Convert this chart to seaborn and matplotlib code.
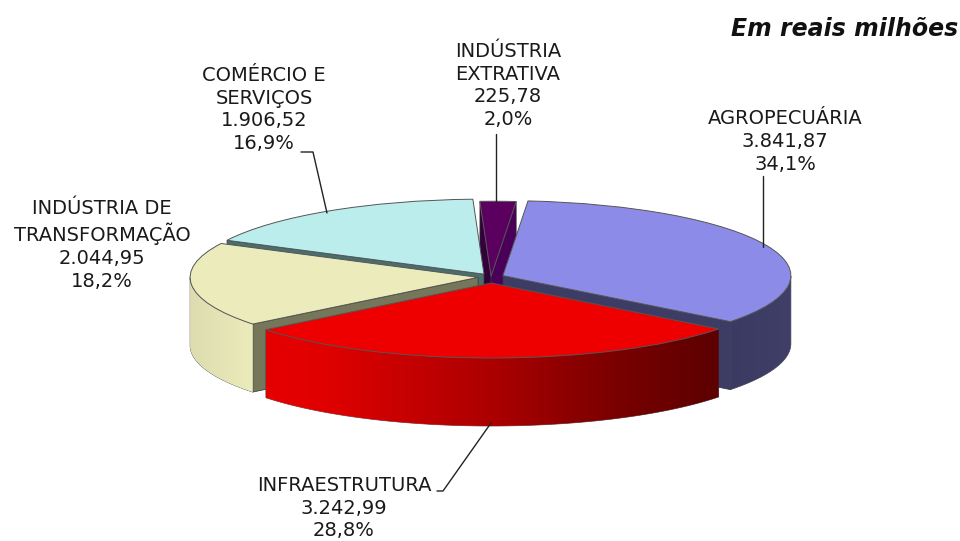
import numpy as np
import matplotlib
matplotlib.use("Agg")
import matplotlib.pyplot as plt
from matplotlib.colors import LinearSegmentedColormap
from matplotlib.patches import Polygon
from matplotlib.lines import Line2D
import seaborn as sns

sectors = ["AGROPECUÁRIA", "INFRAESTRUTURA", "INDÚSTRIA DE\nTRANSFORMAÇÃO",
           "COMÉRCIO E\nSERVIÇOS", "INDÚSTRIA\nEXTRATIVA"]
values = [3841.87, 3242.99, 2044.95, 1906.52, 225.78]

top_colors = ["#8c8ce8", "#ee0000", "#ebebbb", "#bbeded", "#5c0060"]
cut_colors = ["#3c3c64", "#600000", "#76765a", "#4a6e6e", "#33003c"]
explode = [0.045, 0.08, 0.045, 0.045, 0.01]
paint_order = [4, 3, 0, 2, 1]

PX_W, PX_H = 960, 541
CX, CY, RX, RY, DEPTH_PX = 491, 277, 288, 75, 68
DEPTH = DEPTH_PX / RY

sns.set_theme(style="white")
plt.rcParams["font.family"] = ["DejaVu Sans"]
palette = sns.color_palette(top_colors)

fig = plt.figure(figsize=(9.6, 5.41), dpi=100, facecolor="white")
ax = fig.add_axes([0, 0, 1, 1])
wedges, _ = ax.pie(values, explode=explode, startangle=85, counterclock=False,
                   colors=palette, radius=1,
                   wedgeprops=dict(edgecolor="#555555", linewidth=0.7))


def px(x, y):
    return (x - CX) / RX, (CY - y) / RY


gradients = {
    1: LinearSegmentedColormap.from_list(
        "red", list(zip([0.0, 0.13, 0.52, 0.76, 1.0],
                        ["#e60000", "#e00000", "#a80000", "#7c0000", "#5c0000"]))),
    2: LinearSegmentedColormap.from_list("cream", ["#dcdcb0", "#ebebbb"]),
    0: LinearSegmentedColormap.from_list("navy", ["#3a3a62", "#3f3f68"]),
}

for rank, i in enumerate(paint_order):
    w = wedges[i]
    z = 10 + rank * 5
    cx, cy = w.center
    t1, t2 = w.theta1, w.theta2
    w.set_zorder(z + 3)
    # flat cut faces that look toward the viewer
    faces = []
    if np.cos(np.radians(t2)) < 0:
        faces.append(t2)
    if np.cos(np.radians(t1)) > 0:
        faces.append(t1)
    for k, a in enumerate(faces):
        ex, ey = cx + np.cos(np.radians(a)), cy + np.sin(np.radians(a))
        shade = cut_colors[i]
        if i == 4 and k == 1:
            shade = "#4a0058"
        ax.add_patch(Polygon([(cx, cy), (ex, ey), (ex, ey - DEPTH), (cx, cy - DEPTH)],
                             closed=True, facecolor=shade, edgecolor="#333333",
                             linewidth=0.5, zorder=z + 1))
    # curved outer wall
    th = np.radians(np.linspace(t1, t2, 240))
    th = th[np.sin(th) <= 0]
    if th.size > 1:
        xs = cx + np.cos(th)
        ys = cy + np.sin(th)
        poly = Polygon(np.r_[np.c_[xs, ys], np.c_[xs, ys - DEPTH][::-1]], closed=True,
                       facecolor="none", edgecolor="#444444", linewidth=0.5, zorder=z + 2)
        ax.add_patch(poly)
        im = ax.imshow(np.linspace(0, 1, 256)[None, :], cmap=gradients[i], aspect="auto",
                       extent=(xs.min(), xs.max(), (ys - DEPTH).min(), ys.max()),
                       zorder=z + 2, interpolation="bilinear")
        im.set_clip_path(poly)

ax.set_aspect("auto")
ax.set_xlim(-CX / RX, (PX_W - CX) / RX)
ax.set_ylim((CY - PX_H) / RY, CY / RY)
ax.axis("off")

total = sum(values)


def br(v):
    return f"{v:,.2f}".replace(",", "#").replace(".", ",").replace("#", ".")


def label(i):
    pct = f"{100 * values[i] / total:.1f}".replace(".", ",")
    return f"{sectors[i]}\n{br(values[i])}\n{pct}%"


label_pos = {0: (785, 109), 1: (344, 476), 2: (102, 199), 3: (264, 66), 4: (508, 42)}
for i, (x, y) in label_pos.items():
    fig.text(x / PX_W, 1 - y / PX_H, label(i), ha="center", va="top",
             fontsize=14, color="#1a1a1a", linespacing=1.25)

fig.text(958 / PX_W, 1 - 29 / PX_H, "Em reais milhões", ha="right", va="center",
         fontsize=17, fontweight="bold", fontstyle="italic", color="#111111")

leaders = [
    [(496, 134), (496, 202)],
    [(763, 176), (763, 247)],
    [(301, 152), (313, 152), (327, 213)],
    [(437, 491), (443, 491), (491, 423)],
]
for pts in leaders:
    xy = [px(*p) for p in pts]
    ax.add_line(Line2D(*zip(*xy), color="#222222", linewidth=1.0, zorder=50))

fig.savefig("out.png", dpi=100, facecolor="white")
